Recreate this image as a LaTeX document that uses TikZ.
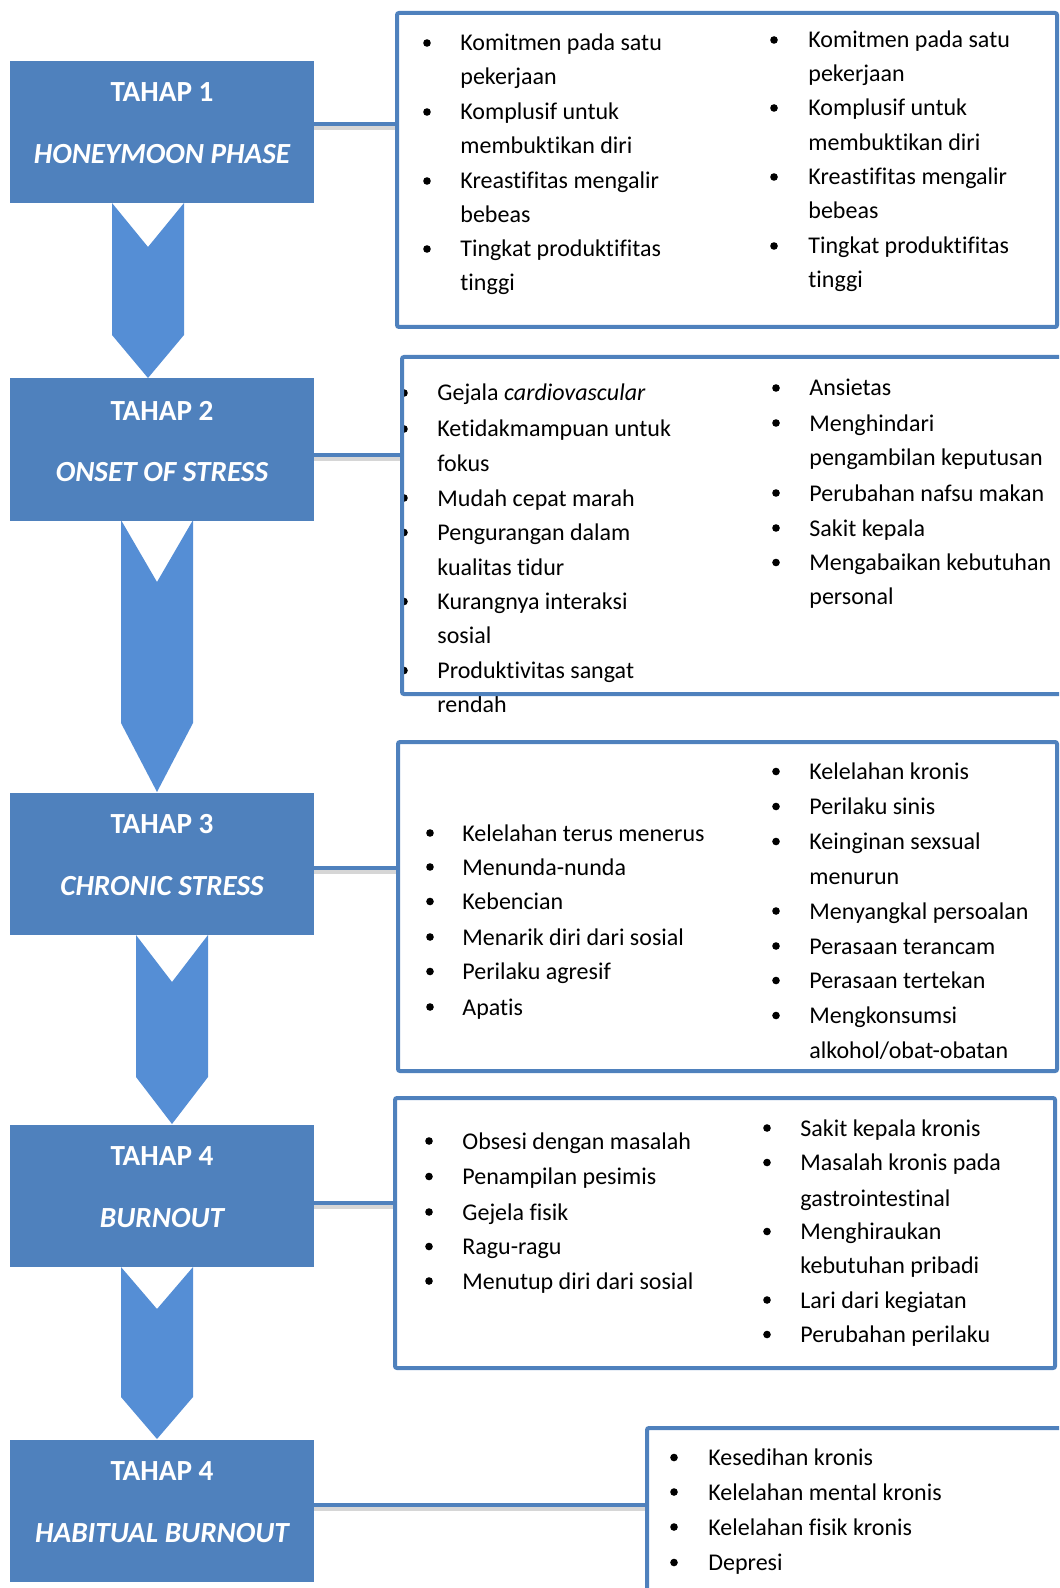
\documentclass[tikz,border=0pt]{standalone}
\usepackage{fontspec}
\setmainfont{Carlito}[Ligatures=NoCommon]
\definecolor{boxblue}{HTML}{4F81BD}
\definecolor{chevblue}{HTML}{558ED5}
\newcommand{\itemcol}[5]{%
  \foreach \ya/\tx [count=\k] in {#3} {\node[txt] (#5t\k) at (#2,\ya) {\tx};}
  \foreach \ya [count=\k] in {#4} {\node[bul] (#5b\k) at (#1,\ya) {};}
}
\begin{document}
\begin{tikzpicture}[x=0.5pt,y=-0.5pt,
  stage/.style={fill=boxblue, minimum width=152pt, minimum height=71pt, inner sep=0pt, draw=none},
  stagetxt/.style={text=white, font=\fontsize{14.6}{17}\selectfont\bfseries, inner sep=0pt, anchor=center},
  rbox/.style={draw=boxblue, line width=2pt, rounded corners=1pt, inner sep=0pt},
  conn/.style={draw=boxblue, line width=2pt},
  shad/.style={draw=black, opacity=0.16, line width=2.4pt},
  chev/.style={fill=chevblue, draw=none},
  txt/.style={anchor=base west, inner sep=0pt, yshift=-4pt, font=\fontsize{12}{14}\selectfont},
  bul/.style={circle, fill=black, inner sep=0pt, minimum size=3.8pt}]
\useasboundingbox (0,0) rectangle (1059,1588);
\clip (0,0) rectangle (1059,1588);

% chevrons
\path[chev] (112,203) -- (148,247) -- (184,203) -- (184,335) -- (148,378) -- (112,335) -- cycle;
\path[chev] (121,520) -- (157,582) -- (193,520) -- (193,723) -- (157,792) -- (121,723) -- cycle;
\path[chev] (136,935) -- (172,982) -- (208,935) -- (208,1077) -- (172,1124) -- (136,1077) -- cycle;
\path[chev] (121,1267) -- (157,1309) -- (193,1267) -- (193,1397) -- (157,1439) -- (121,1397) -- cycle;

% stage boxes
\node[stage] (s1) at (162,132) {};
\node[stage] (s2) at (162,449.5) {};
\node[stage] (s3) at (162,863.5) {};
\node[stage] (s4) at (162,1196) {};
\node[stage] (s5) at (162,1510.5) {};

\node[stagetxt] (s1a) at (162,92.5) {TAHAP 1};
\node[stagetxt] (s1b) at (162,154.5) {\itshape HONEYMOON PHASE};
\node[stagetxt] (s2a) at (162,410.5) {TAHAP 2};
\node[stagetxt] (s2b) at (162,472.5) {\itshape ONSET OF STRESS};
\node[stagetxt] (s3a) at (162,824.5) {TAHAP 3};
\node[stagetxt] (s3b) at (162,886.5) {\itshape CHRONIC STRESS};
\node[stagetxt] (s4a) at (162,1156.5) {TAHAP 4};
\node[stagetxt] (s4b) at (162,1218.5) {\itshape BURNOUT};
\node[stagetxt] (s5a) at (162,1471.5) {TAHAP 4};
\node[stagetxt] (s5b) at (162,1533.5) {\itshape HABITUAL BURNOUT};

% half-hidden bullets of box 2
\itemcol{404}{437}{393/Gejala \emph{cardiovascular}, 429/Ketidakmampuan untuk, 463.5/fokus, 498/Mudah cepat marah, 532.5/Pengurangan dalam, 567/kualitas tidur, 601.5/Kurangnya interaksi, 635.5/sosial, 670.5/Produktivitas sangat, 704.5/rendah}{393,429,498,532.5,601.5,670.5}{bL}

% right boxes
\node[rbox, minimum width=330pt, minimum height=157pt] (r1) at (727,170) {};
\node[rbox, minimum width=336.5pt, minimum height=168.5pt] (r2) at (738.5,525.5) {};
\node[rbox, minimum width=329.5pt, minimum height=164.5pt] (r3) at (727.5,906.5) {};
\node[rbox, minimum width=330pt, minimum height=135pt] (r4) at (725,1233) {};
\node[rbox, minimum width=214pt, minimum height=96pt] (r5) at (861,1524) {};

% connectors
\coordinate (c1) at (314,124);
\coordinate (c2) at (314,455);
\coordinate (c3) at (314,868);
\coordinate (c4) at (314,1203);
\coordinate (c5) at (314,1505);
\foreach \c/\r in {c1/r1,c2/r2,c3/r3,c4/r4,c5/r5}{
  \draw[shad, transform canvas={yshift=-1.6pt}] (\c) -- (\c -| \r.west);
  \draw[conn] (\c) -- (\c -| \r.west);
}

% texts
\itemcol{427}{460}{43/Komitmen pada satu, 77/pekerjaan, 112/Komplusif untuk, 146/membuktikan diri, 181/Kreastifitas mengalir, 215/bebeas, 249/Tingkat produktifitas, 283/tinggi}{43,112,181,249}{aL}
\itemcol{774}{808}{40/Komitmen pada satu, 74/pekerjaan, 108/Komplusif untuk, 143/membuktikan diri, 177/Kreastifitas mengalir, 211/bebeas, 246/Tingkat produktifitas, 280/tinggi}{40,108,177,246}{aR}
\itemcol{776}{809}{388/Ansietas, 423/Menghindari, 458/pengambilan keputusan, 493/Perubahan nafsu makan, 528/Sakit kepala, 562.5/Mengabaikan kebutuhan, 596.5/personal}{388,423,493,528,562.5}{bR}
\itemcol{430}{462}{833/Kelelahan terus menerus, 867/Menunda-nunda, 901.5/Kebencian, 937/Menarik diri dari sosial, 971.5/Perilaku agresif, 1007/Apatis}{833,867,901.5,937,971.5,1007}{cL}
\itemcol{776}{809}{771.5/Kelelahan kronis, 806.5/Perilaku sinis, 841.5/Keinginan sexsual, 876/menurun, 911/Menyangkal persoalan, 946/Perasaan terancam, 980.5/Perasaan tertekan, 1015.5/Mengkonsumsi, 1050/{alkohol/obat-obatan}}{771.5,806.5,841.5,911,946,980.5,1015.5}{cR}
\itemcol{429}{462}{1141/Obsesi dengan masalah, 1176.5/Penampilan pesimis, 1212/Gejela fisik, 1246.5/Ragu-ragu, 1281/Menutup diri dari sosial}{1141,1176.5,1212,1246.5,1281}{dL}
\itemcol{767}{800}{1128/Sakit kepala kronis, 1162.5/Masalah kronis pada, 1198/gastrointestinal, 1231.5/Menghiraukan, 1265.5/kebutuhan pribadi, 1300/Lari dari kegiatan, 1334.5/Perubahan perilaku}{1128,1162.5,1231.5,1300,1334.5}{dR}
\itemcol{674}{708}{1457.5/Kesedihan kronis, 1492/Kelelahan mental kronis, 1527/Kelelahan fisik kronis, 1562.5/Depresi}{1457.5,1492,1527,1562.5}{eL}
\end{tikzpicture}
\end{document}
